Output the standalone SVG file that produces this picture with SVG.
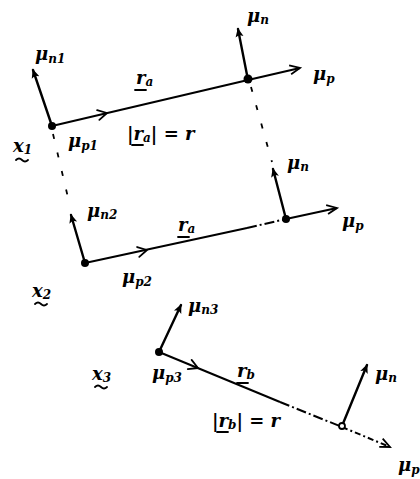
<svg xmlns="http://www.w3.org/2000/svg" width="420" height="479" viewBox="0 0 420 479">
<defs>
<marker id="fill" markerWidth="10" markerHeight="10" refX="8" refY="5" orient="auto" markerUnits="userSpaceOnUse">
<path d="M0,1 L9,5 L0,9 L2,5 Z" fill="#000"/>
</marker>
<marker id="open" markerWidth="14" markerHeight="14" refX="11" refY="7" orient="auto" markerUnits="userSpaceOnUse">
<path d="M1,2 L11,7 L1,11" fill="none" stroke="#000" stroke-width="1.8"/>
</marker>
</defs>
<style>
.v{stroke:#000;stroke-width:2.4;fill:none;stroke-linecap:round}
.l{stroke:#000;stroke-width:2;fill:none}
.d{stroke:#000;stroke-width:1.8;fill:none;stroke-dasharray:5 14}
.c{stroke:#000;stroke-width:1.8;fill:none;stroke-linecap:round;stroke-linejoin:round}
.t{font-family:"DejaVu Serif",serif;font-style:italic;font-weight:bold;font-size:18px;fill:#000}
.s{font-size:12px}
.dot{fill:#000}
</style>
<rect width="420" height="479" fill="#fff"/>
<g id="connectors">
<line class="l" x1="52" y1="126" x2="248" y2="80"/>
<path class="c" transform="translate(107,113) rotate(-13)" d="M-9,-5 L0,0 L-9,5"/>
<line class="d" x1="53" y1="134" x2="70" y2="206"/>
<line class="d" x1="251" y1="87" x2="272" y2="162"/>
<line class="l" x1="85" y1="263" x2="247" y2="228"/>
<line class="l" x1="247" y1="228" x2="286" y2="219" stroke-dasharray="10 3 2 3"/>
<path class="c" transform="translate(147,250) rotate(-12.3)" d="M-9,-5 L0,0 L-9,5"/>
<line class="l" x1="159" y1="352" x2="280" y2="402"/>
<line class="l" x1="280" y1="402" x2="342" y2="427" stroke-dasharray="10 3 2 3" stroke-width="1.6"/>
<path class="c" transform="translate(198,368) rotate(22.6)" d="M-9,-5 L0,0 L-9,5"/>
</g>
<g id="node-x1">
<line class="v" x1="52" y1="126" x2="33" y2="70" marker-end="url(#fill)"/>
<circle class="dot" cx="52" cy="126" r="4"/>
<text class="t" x="35" y="60">μ<tspan class="s" dy="3">n1</tspan></text>
<text class="t" x="13" y="152">x<tspan class="s" dy="2">1</tspan></text>
<path class="c" d="M16,160 q3,-3 6,0 t6,0" stroke-width="1.5"/>
<text class="t" x="68" y="147">μ<tspan class="s" dy="3">p1</tspan></text>
<text class="t" x="136" y="84">r<tspan class="s" dy="2">a</tspan></text>
<line class="c" x1="135" y1="90" x2="146" y2="90" stroke-width="1.5"/>
<text class="t" x="127" y="140">|r<tspan class="s" dy="2">a</tspan><tspan dy="-2">| = r</tspan></text>
<line class="c" x1="132" y1="145" x2="143" y2="145" stroke-width="1.5"/>
</g>
<g id="node-a">
<line class="v" x1="248" y1="80" x2="238" y2="29" marker-end="url(#fill)"/>
<line class="l" x1="248" y1="80" x2="300" y2="68" marker-end="url(#open)"/>
<circle class="dot" cx="248" cy="79" r="4.5"/>
<text class="t" x="247" y="22">μ<tspan class="s" dy="2">n</tspan></text>
<text class="t" x="313" y="80">μ<tspan class="s" dy="3">p</tspan></text>
</g>
<g id="node-x2">
<line class="v" x1="85" y1="263" x2="71" y2="215" marker-end="url(#fill)"/>
<circle class="dot" cx="85" cy="263" r="4"/>
<text class="t" x="87" y="217">μ<tspan class="s" dy="2">n2</tspan></text>
<text class="t" x="122" y="283">μ<tspan class="s" dy="3">p2</tspan></text>
<text class="t" x="32" y="297">x<tspan class="s" dy="2">2</tspan></text>
<path class="c" d="M35,304 q3,-3 6,0 t6,0" stroke-width="1.5"/>
<text class="t" x="178" y="231">r<tspan class="s" dy="2">a</tspan></text>
<line class="c" x1="178" y1="237" x2="189" y2="237" stroke-width="1.5"/>
</g>
<g id="node-b">
<line class="v" x1="286" y1="219" x2="273" y2="169" marker-end="url(#fill)"/>
<line class="l" x1="286" y1="219" x2="337" y2="208" marker-end="url(#open)"/>
<circle class="dot" cx="286" cy="219" r="4"/>
<text class="t" x="287" y="169">μ<tspan class="s" dy="2">n</tspan></text>
<text class="t" x="342" y="227">μ<tspan class="s" dy="3">p</tspan></text>
</g>
<g id="node-x3">
<line class="v" x1="159" y1="352" x2="181" y2="305" marker-end="url(#fill)"/>
<circle class="dot" cx="159" cy="352" r="4"/>
<text class="t" x="188" y="312">μ<tspan class="s" dy="2">n3</tspan></text>
<text class="t" x="152" y="379">μ<tspan class="s" dy="3">p3</tspan></text>
<text class="t" x="92" y="380">x<tspan class="s" dy="2">3</tspan></text>
<path class="c" d="M95,387 q3,-3 6,0 t6,0" stroke-width="1.5"/>
<text class="t" x="237" y="377">r<tspan class="s" dy="2">b</tspan></text>
<line class="c" x1="237" y1="383" x2="248" y2="383" stroke-width="1.5"/>
<text class="t" x="212" y="427">|r<tspan class="s" dy="2">b</tspan><tspan dy="-2">| = r</tspan></text>
<line class="c" x1="217" y1="432" x2="228" y2="432" stroke-width="1.5"/>
</g>
<g id="node-c">
<line class="v" x1="342" y1="426" x2="367" y2="365" marker-end="url(#fill)"/>
<line class="l" x1="342" y1="427" x2="390" y2="447" stroke-dasharray="6 3 2 3" stroke-width="1.5" marker-end="url(#open)"/>
<circle cx="342" cy="426" r="3" fill="#fff" stroke="#000" stroke-width="1.8"/>
<text class="t" x="375" y="380">μ<tspan class="s" dy="2">n</tspan></text>
<text class="t" x="398" y="471">μ<tspan class="s" dy="3">p</tspan></text>
</g>
</svg>
